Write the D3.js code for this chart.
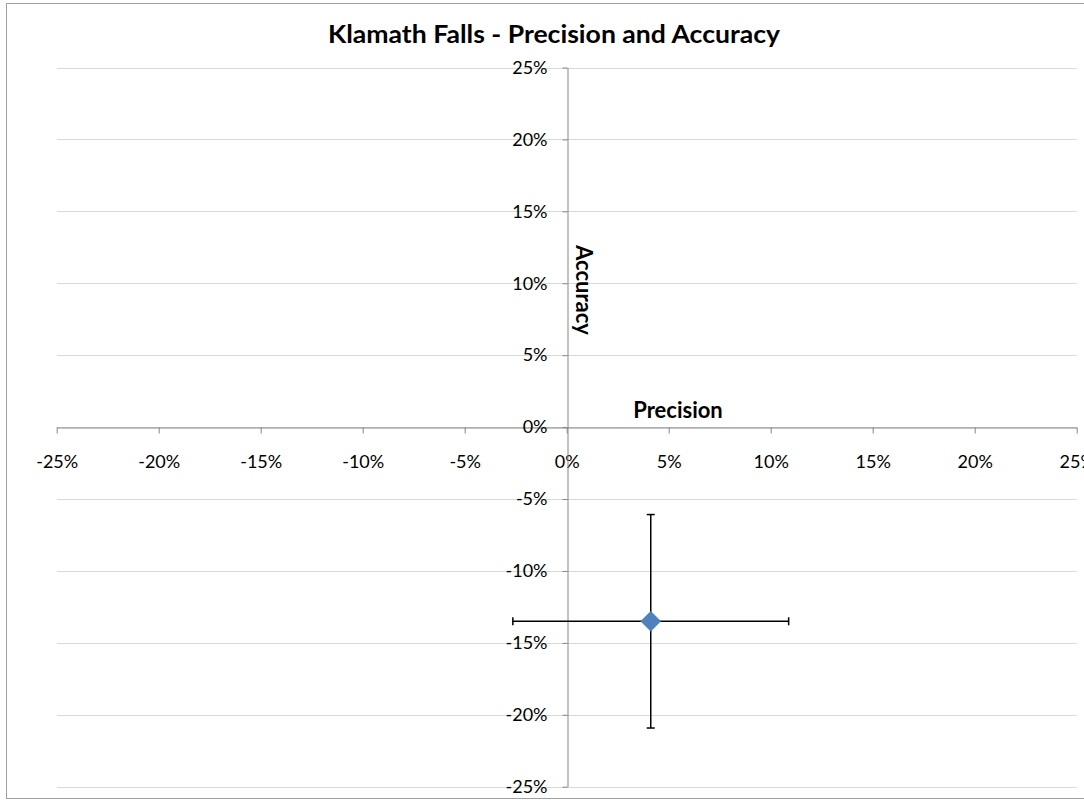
<!DOCTYPE html>
<html>
<head>
<meta charset="utf-8">
<script src="https://cdn.jsdelivr.net/npm/d3@7"></script>
<style>
  body { margin: 0; background: #fff; }
  text { font-family: Lato, "Liberation Sans", sans-serif; }
</style>
</head>
<body>
<svg id="chart" width="1084" height="800"></svg>
<script>
// data (percent)
const precision = [4.12];
const accuracy = [-13.5];
const precisionErr = [6.76];
const accuracyErr = [7.42];
const xTicks = [-25, -20, -15, -10, -5, 0, 5, 10, 15, 20, 25];
const yTicks = [25, 20, 15, 10, 5, 0, -5, -10, -15, -20, -25];

const points = precision.map((p, i) => ({
  x: p, y: accuracy[i], ex: precisionErr[i], ey: accuracyErr[i]
}));

const svg = d3.select("#chart");

// chart area border
svg.append("rect")
  .attr("x", 6.5).attr("y", 3.5)
  .attr("width", 1100).attr("height", 795)
  .attr("fill", "#fff")
  .attr("stroke", "#a0a0a0");

const x = d3.scaleLinear().domain([-25, 25]).range([56.7, 1076.7]);
const y = d3.scaleLinear().domain([-25, 25]).range([786.7, 67.5]);

// horizontal gridlines
svg.append("g")
  .selectAll("line")
  .data(yTicks)
  .join("line")
  .attr("x1", x(-25)).attr("x2", x(25))
  .attr("y1", d => Math.round(y(d)) + 0.5)
  .attr("y2", d => Math.round(y(d)) + 0.5)
  .attr("stroke", "#d9d9d9");

// axes crossing at zero
const fmt = d => d + "%";
const xAxis = svg.append("g")
  .attr("transform", `translate(0,${Math.round(y(0)) + 0.5})`)
  .call(d3.axisBottom(x).tickValues(xTicks).tickFormat(fmt).tickSizeInner(6).tickSizeOuter(0).tickPadding(22));
const yAxis = svg.append("g")
  .attr("transform", `translate(${Math.round(x(0)) + 0.5},0)`)
  .call(d3.axisLeft(y).tickValues(yTicks).tickFormat(fmt).tickSizeInner(5).tickSizeOuter(0).tickPadding(15));

[xAxis, yAxis].forEach(a => {
  a.select(".domain").attr("stroke", "#868686");
  a.selectAll(".tick line").attr("stroke", "#868686");
  a.selectAll(".tick text")
    .attr("fill", "#000")
    .style("font-size", "18px")
    .style("font-family", "Lato, sans-serif");
});

// title
svg.append("text")
  .attr("x", 554)
  .attr("y", 43)
  .attr("text-anchor", "middle")
  .attr("textLength", 452)
  .attr("lengthAdjust", "spacingAndGlyphs")
  .style("font-size", "25px")
  .style("font-weight", "bold")
  .text("Klamath Falls - Precision and Accuracy");

// axis titles
svg.append("text")
  .attr("x", 678)
  .attr("y", 418)
  .attr("text-anchor", "middle")
  .style("font-size", "22px")
  .style("font-weight", "bold")
  .text("Precision");

svg.append("text")
  .attr("transform", `translate(576,290) rotate(90)`)
  .attr("text-anchor", "middle")
  .style("font-size", "22px")
  .style("font-weight", "bold")
  .text("Accuracy");

// error bars
const err = svg.append("g").attr("stroke", "#000").attr("stroke-width", 1.5);
const cap = 4;
points.forEach(d => {
  err.append("line")
    .attr("x1", x(d.x - d.ex)).attr("x2", x(d.x + d.ex))
    .attr("y1", y(d.y)).attr("y2", y(d.y));
  err.append("line")
    .attr("x1", x(d.x)).attr("x2", x(d.x))
    .attr("y1", y(d.y + d.ey)).attr("y2", y(d.y - d.ey));
  [d.x - d.ex, d.x + d.ex].forEach(v => {
    err.append("line")
      .attr("x1", x(v)).attr("x2", x(v))
      .attr("y1", y(d.y) - cap).attr("y2", y(d.y) + cap);
  });
  [d.y - d.ey, d.y + d.ey].forEach(v => {
    err.append("line")
      .attr("x1", x(d.x) - cap).attr("x2", x(d.x) + cap)
      .attr("y1", y(v)).attr("y2", y(v));
  });
});

// diamond markers
svg.append("g")
  .selectAll("path")
  .data(points)
  .join("path")
  .attr("transform", d => `translate(${x(d.x)},${y(d.y)})`)
  .attr("d", "M0,-10L10,0L0,10L-10,0Z")
  .attr("fill", "#4f81bd")
  .attr("stroke", "#4a7ebb")
  .attr("stroke-width", 0.5);
</script>
</body>
</html>
